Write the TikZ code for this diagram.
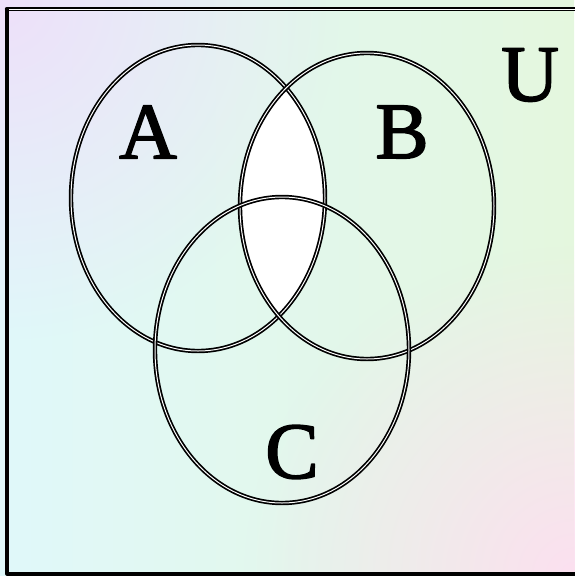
\documentclass[tikz,border=0pt]{standalone}
\usepackage{fontspec}
\setmainfont{Liberation Serif}
\newfontfamily\lettere[FakeBold=2]{Liberation Serif}
\usetikzlibrary{fadings}

\definecolor{fondoazz}{RGB}{224,248,250}
\definecolor{fondover}{RGB}{228,247,222}
\definecolor{fondolil}{RGB}{238,224,250}
\definecolor{fondorosa}{RGB}{252,224,240}

\tikzfading[name=sfuma,inner color=transparent!0,outer color=transparent!100]

\tikzset{
  bordo/.style={draw=black,line width=1.7pt,double=white,double distance=1pt},
  lettera/.style={inner sep=0pt,font=\lettere\fontsize{80}{80}\selectfont}
}

\begin{document}
\begin{tikzpicture}[x=1pt,y=-1pt,line join=round,line cap=round]

  \useasboundingbox (0,0) rectangle (574,576);

  % ---- lo sfondo ----------------------------------------------------------
  \shade[left color=fondoazz,right color=fondover] (0,0) rectangle (574,576);
  \fill[fondolil,path fading=sfuma] (0,0) circle (340);
  \fill[fondorosa,path fading=sfuma] (574,576) circle (330);

  % ---- i centri degli insiemi ---------------------------------------------
  \coordinate (cA) at (198,198);
  \coordinate (cB) at (367,206);
  \coordinate (cC) at (282,350);

  % ---- l'intersezione A e B -----------------------------------------------
  \begin{scope}
    \clip (cA) ellipse (127 and 153);
    \fill[white] (cB) ellipse (127 and 153);
  \end{scope}

  % ---- gli insiemi A, B, C ------------------------------------------------
  \draw[bordo] (cA) ellipse (127 and 153);
  \draw[bordo] (cB) ellipse (127 and 153);
  \draw[bordo] (cC) ellipse (127 and 153);

  \node[lettera] (lA) at (148,132) {A};
  \node[lettera] (lB) at (402,132) {B};
  \node[lettera] (lC) at (292,452) {C};
  \node[lettera] (lU) at (530,75) {U};

  % ---- l'universo U -------------------------------------------------------
  \coordinate (uNO) at (7,9);
  \coordinate (uSO) at (7,574);
  \draw[bordo] (uNO) -- (590,9);
  \draw[line width=3.2pt] (uNO) -- (uSO) -- (590,574);

\end{tikzpicture}
\end{document}
